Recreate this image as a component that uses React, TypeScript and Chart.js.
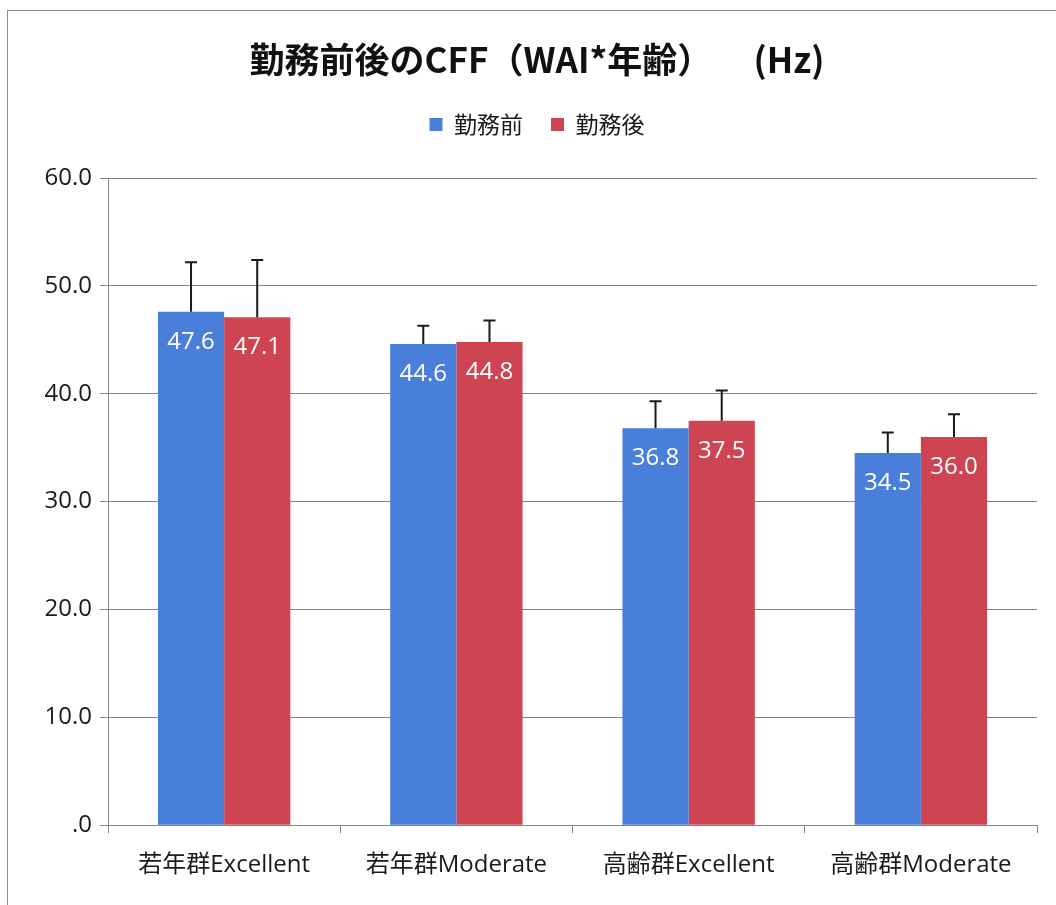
import React, { useEffect, useRef } from "react";
import { Chart, registerables } from "chart.js";

Chart.register(...registerables);

const categories = ["若年群Excellent", "若年群Moderate", "高齢群Excellent", "高齢群Moderate"];
const seriesNames = ["勤務前", "勤務後"];
const beforeValues = [47.6, 44.6, 36.8, 34.5];
const afterValues = [47.1, 44.8, 37.5, 36.0];
const beforeErrors = [4.6, 1.7, 2.5, 1.9];
const afterErrors = [5.3, 2.0, 2.8, 2.1];
const titleText = "勤務前後のCFF（WAI*年齢）　   (Hz)";

const FONT = "'Open Sans', 'Noto Sans CJK JP', sans-serif";
const CJK = "'Noto Sans CJK JP', sans-serif";

const errorBarPlugin = {
  id: "errorBars",
  afterDatasetsDraw(chart: any) {
    const ctx = chart.ctx;
    const yScale = chart.scales.y;
    const errs = [beforeErrors, afterErrors];
    chart.data.datasets.forEach((ds: any, di: number) => {
      const meta = chart.getDatasetMeta(di);
      meta.data.forEach((bar: any, i: number) => {
        const v = ds.data[i];
        const top = yScale.getPixelForValue(v + errs[di][i]);
        const base = yScale.getPixelForValue(v);
        ctx.save();
        ctx.strokeStyle = "#1a1a1a";
        ctx.lineWidth = 2;
        ctx.beginPath();
        ctx.moveTo(bar.x, base);
        ctx.lineTo(bar.x, top);
        ctx.moveTo(bar.x - 6, top);
        ctx.lineTo(bar.x + 6, top);
        ctx.stroke();
        ctx.restore();
      });
    });
  },
};

const valueLabelPlugin = {
  id: "valueLabels",
  afterDatasetsDraw(chart: any) {
    const ctx = chart.ctx;
    chart.data.datasets.forEach((ds: any, di: number) => {
      const meta = chart.getDatasetMeta(di);
      meta.data.forEach((bar: any, i: number) => {
        ctx.save();
        ctx.fillStyle = "#ffffff";
        ctx.font = `24px ${FONT}`;
        ctx.textAlign = "center";
        ctx.textBaseline = "middle";
        ctx.fillText(ds.data[i].toFixed(1), bar.x, bar.y + 30);
        ctx.restore();
      });
    });
  },
};

const legendSpacePlugin = {
  id: "legendSpace",
  afterInit(chart: any) {
    const lg = chart.legend;
    if (!lg || lg.__patched) return;
    const orig = lg.fit.bind(lg);
    lg.fit = function () {
      orig();
      this.height += 32;
    };
    lg.__patched = true;
  },
};

export default function App() {
  const ref = useRef<HTMLCanvasElement>(null);
  useEffect(() => {
    document.body.style.margin = "0";
    const chart = new Chart(ref.current as HTMLCanvasElement, {
      type: "bar",
      data: {
        labels: categories,
        datasets: [
          { label: seriesNames[0], data: beforeValues, backgroundColor: "#4a7edb" },
          { label: seriesNames[1], data: afterValues, backgroundColor: "#cf4452" },
        ],
      },
      options: {
        animation: false,
        responsive: false,
        layout: { padding: { left: 37, right: 19, top: 0, bottom: 7 } },
        datasets: { bar: { categoryPercentage: 0.57, barPercentage: 1 } } as any,
        plugins: {
          title: {
            display: true,
            text: titleText,
            color: "#111",
            font: { family: CJK, size: 35, weight: "bold" },
            padding: { top: 39, bottom: 4 },
          },
          legend: {
            display: true,
            labels: {
              color: "#1a1a1a",
              font: { family: CJK, size: 23 },
              boxWidth: 13,
              boxHeight: 13,
              padding: 28,
            },
          },
          tooltip: { enabled: false },
        },
        scales: {
          x: {
            grid: { display: true, drawOnChartArea: false, tickLength: 8, color: "#888" },
            border: { color: "#888" },
            ticks: { color: "#1a1a1a", font: { family: FONT, size: 24 }, padding: 18, maxRotation: 0 },
          },
          y: {
            min: 0,
            max: 60,
            grid: { color: "#888", tickLength: 8 },
            border: { color: "#888" },
            afterFit(scale: any) {
              scale.width = 71;
            },
            ticks: {
              stepSize: 10,
              color: "#1a1a1a",
              font: { family: FONT, size: 24 },
              padding: 8,
              callback: (v: any) => (Number(v) === 0 ? ".0" : Number(v).toFixed(1)),
            },
          },
        },
      },
      plugins: [legendSpacePlugin, errorBarPlugin, valueLabelPlugin],
    });
    return () => chart.destroy();
  }, []);
  return (
    <div style={{ position: "fixed", left: 0, top: 0, width: 1056, height: 905, overflow: "hidden", background: "#fff" }}>
      <div style={{ position: "absolute", left: 7, top: 10, width: 1100, height: 1000, border: "1px solid #8a8a9a" }} />
      <canvas ref={ref} width={1056} height={905} style={{ position: "absolute", left: 0, top: 0 }} />
    </div>
  );
}
